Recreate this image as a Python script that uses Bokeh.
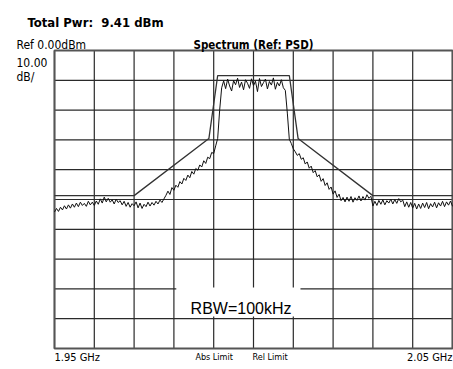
import numpy as np
from bokeh.plotting import figure
from bokeh.models import Label, BoxAnnotation
from bokeh.embed import file_html
from bokeh.resources import INLINE

# ---- data ----
f_start_mhz = 1950.0
f_stop_mhz = 2050.0
trace_dbm = [
    # 1950.0 - 1970.0
    -54.2, -53.0, -54.0, -52.6, -53.5, -52.1, -53.2, -51.8, -52.9, -51.5,
    -52.6, -51.2, -52.4, -50.9, -52.0, -51.3, -52.3, -50.6, -51.8, -50.9,
    -52.0, -50.5, -51.6, -49.8, -51.2, -49.2, -50.8, -49.6, -50.9, -50.1,
    -51.5, -49.9, -51.0, -50.4, -51.8, -50.6, -52.3, -51.0, -52.6, -51.4,
    -52.1,
    # 1970.5 - 1978.0
    -50.8, -52.8, -51.2, -53.0, -51.6, -52.4, -50.9, -52.2, -51.0, -51.9,
    -50.6, -51.5, -50.2, -51.0, -49.8, -48.6,
    # 1978.5 - 1991.0
    -47.2, -48.3, -46.0, -46.9, -45.2, -45.9, -44.0, -44.8, -42.9, -43.6,
    -41.8, -42.7, -40.6, -41.5, -39.6, -40.2, -38.4, -39.1, -37.0, -37.9,
    -35.8, -36.3, -34.2, -34.6, -32.0, -29.5,
    # 1991.5 - 1992.0
    -20.0, -12.5,
    # 1992.5 - 2007.5
    -10.2, -12.8, -9.6, -11.9, -13.6, -10.1, -11.5, -9.3, -12.4, -10.6,
    -13.2, -9.8, -11.0, -12.7, -9.5, -11.8, -10.3, -13.8, -9.4, -12.1,
    -10.8, -9.6, -12.9, -10.4, -11.6, -9.2, -13.0, -10.7, -11.9, -9.8,
    -12.5,
    # 2008.0 - 2010.0
    -13.4, -21.0, -29.8, -31.2, -33.0,
    # 2010.5 - 2022.5
    -34.0, -35.2, -34.6, -36.5, -36.0, -38.1, -37.4, -39.5, -38.8, -41.0,
    -40.3, -42.4, -41.7, -43.9, -43.0, -45.3, -44.4, -46.6, -45.8, -48.2,
    -47.1, -49.3, -48.2, -50.4, -49.3,
    # 2023.0 - 2050.0
    -50.8, -49.2, -50.6, -49.0, -50.9, -49.4, -50.3, -48.8, -50.5, -49.0,
    -50.2, -48.4, -49.6, -48.9, -52.2, -50.6, -52.0, -50.3, -51.6, -50.1,
    -51.8, -50.4, -51.2, -49.9, -51.5, -50.0, -51.3, -49.7, -50.8, -50.2,
    -52.4, -50.8, -52.6, -51.0, -52.9, -51.3, -53.2, -51.5, -53.0, -51.2,
    -52.7, -51.0, -53.1, -51.4, -52.5, -50.9, -52.8, -51.1, -52.2, -50.6,
    -52.4, -50.8, -51.9, -50.5, -52.3,
]
trace_mhz = np.linspace(f_start_mhz, f_stop_mhz, len(trace_dbm))

mask_mhz = [1950.0, 1970.0, 1988.8, 1991.0, 2009.0, 2011.2, 2030.0, 2050.0]
mask_dbm = [-48.7, -48.7, -29.5, -8.4, -8.4, -29.5, -48.7, -48.7]

x_grid = [1950, 1960, 1970, 1980, 1990, 2000, 2010, 2020, 2030, 2040, 2050]
y_grid = [-100, -90, -80, -70, -60, -50, -40, -30, -20, -10, 0]
ref_level_dbm = 0.0
bottom_dbm = -100.0

total_pwr_text = "Total Pwr:\u00a0\u00a09.41 dBm"
ref_text = "Ref 0.00dBm"
scale_text = ["10.00", "dB/"]
title_text = "Spectrum (Ref: PSD)"
start_text = "1.95 GHz"
stop_text = "2.05 GHz"
abs_text = "Abs Limit"
rel_text = "Rel Limit"
rbw_text = "RBW=100kHz"

# ---- figure (frame spans the whole canvas so that texts are not clipped) ----
PX_PER_MHZ = 3.98
PX_PER_DB = 2.98
x0 = f_start_mhz - 54 / PX_PER_MHZ
x1 = f_stop_mhz + 1 / PX_PER_MHZ
y1 = ref_level_dbm + 50 / PX_PER_DB
y0 = bottom_dbm - 21 / PX_PER_DB

p = figure(width=453, height=369, x_range=(x0, x1), y_range=(y0, y1),
           min_border=0, min_border_left=0, min_border_right=0,
           min_border_top=0, min_border_bottom=0,
           x_axis_location=None, y_axis_location=None,
           output_backend="svg", toolbar_location=None)
p.background_fill_color = "white"
p.border_fill_color = "white"
p.outline_line_color = None
p.xgrid.visible = False
p.ygrid.visible = False

# graticule
GRID = "#2a2a2a"
p.segment(x0=x_grid, x1=x_grid, y0=[bottom_dbm] * len(x_grid),
          y1=[ref_level_dbm] * len(x_grid), line_color=GRID, line_width=1.2)
p.segment(x0=[f_start_mhz] * len(y_grid), x1=[f_stop_mhz] * len(y_grid),
          y0=y_grid, y1=y_grid, line_color=GRID, line_width=1.2)
p.quad(left=[f_start_mhz], right=[f_stop_mhz], bottom=[bottom_dbm],
       top=[ref_level_dbm], fill_alpha=0, line_color="#555555", line_width=2)

p.line(mask_mhz, mask_dbm, line_color="#333333", line_width=1.3)
p.line(trace_mhz, trace_dbm, line_color="#111111", line_width=1)

p.add_layout(BoxAnnotation(left=1980.6, right=2011.8, bottom=-89.3, top=-79.5,
                           fill_color="white", fill_alpha=1.0, line_alpha=0))

FN = "DejaVu Sans Condensed"

def lab(x, y, t, size, bold=False, align="left", font=FN):
    p.add_layout(Label(x=x, y=y, text=t, text_font=font,
                       text_font_size=f"{size}px",
                       text_font_style="bold" if bold else "normal",
                       text_align=align, text_baseline="alphabetic",
                       text_color="black"))

lab(1943.2, 9.5, total_pwr_text, 13, bold=True)
lab(1940.45, 1.68, ref_text, 12)
lab(2000.0, 1.68, title_text, 11.5, bold=True, align="center")
lab(1940.45, -4.03, scale_text[0], 12)
lab(1940.45, -9.06, scale_text[1], 12)
lab(1950.0, -103.0, start_text, 11)
lab(2050.0, -103.0, stop_text, 11, align="right")
lab(1985.4, -102.7, abs_text, 9)
lab(1999.75, -102.7, rel_text, 9)
lab(1984.2, -86.6, rbw_text, 16, font="Liberation Sans")

open("out.html", "w").write(file_html(p, INLINE))
